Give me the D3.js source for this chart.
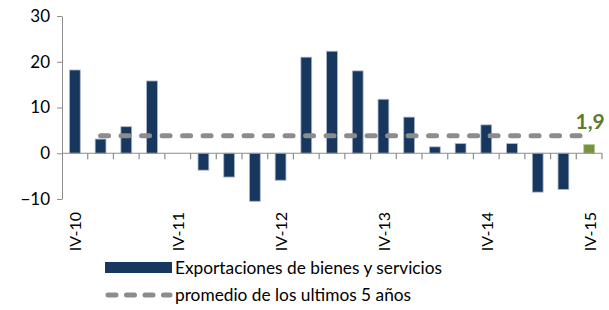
<!DOCTYPE html>
<html>
<head>
<meta charset="utf-8">
<script src="https://cdn.jsdelivr.net/npm/d3@7"></script>
<style>
  body { margin: 0; background: #fff; }
  text { font-family: Lato, "Open Sans", sans-serif; fill: #000; }
</style>
</head>
<body>
<div id="chart"></div>
<script>
"use strict";

// quarters IV-10 .. IV-15
const quarters = ["IV-10", "I-11", "II-11", "III-11", "IV-11", "I-12", "II-12", "III-12", "IV-12",
    "I-13", "II-13", "III-13", "IV-13", "I-14", "II-14", "III-14", "IV-14", "I-15", "II-15", "III-15", "IV-15"];
const exportaciones = [18.2, 3.1, 5.8, 15.8, 0, -3.7, -5.2, -10.5, -5.9,
    21.0, 22.3, 18.0, 11.8, 7.9, 1.4, 2.1, 6.2, 2.1, -8.5, -7.9, 1.9];
const promedio = [null, 3.8, 3.8, 3.8, 3.8, 3.8, 3.8, 3.8, 3.8, 3.8, 3.8,
    3.8, 3.8, 3.8, 3.8, 3.8, 3.8, 3.8, 3.8, 3.8, 3.8];
const yTicks = [-10, 0, 10, 20, 30];
const shownLabels = ["IV-10", "IV-11", "IV-12", "IV-13", "IV-14", "IV-15"];
const legendNames = ["Exportaciones de bienes y servicios", "promedio de los ultimos 5 años"];

const cont = {
    width: 609,
    height: 310,
    left: 62,
    right: 602,
    top: 16,
    bottom: 199,
}

const svg = d3.select("#chart")
    .append("svg")
    .attr("width", cont.width)
    .attr("height", cont.height);

const x = d3.scaleBand()
    .domain(quarters)
    .range([cont.left, cont.right])
    .paddingInner(0.58)
    .paddingOuter(0.29);

const y = d3.scaleLinear()
    .domain([-10, 30])
    .range([cont.bottom, cont.top]);

const step = x.step();
const bandStart = (q) => x(q) - step * 0.29;
const bandCenter = (q) => x(q) + x.bandwidth() / 2;

// y axis
const yAxis = svg.append("g")
    .attr("transform", "translate(" + cont.left + ",0)")
    .call(d3.axisLeft(y).tickValues(yTicks).tickSize(5).tickSizeOuter(0).tickPadding(7));
yAxis.select(".domain").attr("stroke", "#8c8c8c");
yAxis.selectAll(".tick line").attr("stroke", "#8c8c8c");
yAxis.selectAll(".tick text")
    .style("font-size", "17px")
    .attr("fill", "#000");

// bars
svg.selectAll(".bar")
    .data(quarters)
    .enter()
    .append("rect")
    .attr("class", "bar")
    .attr("x", (q) => x(q))
    .attr("width", x.bandwidth())
    .attr("y", (q, i) => y(Math.max(0, exportaciones[i])))
    .attr("height", (q, i) => Math.abs(y(exportaciones[i]) - y(0)))
    .attr("fill", (q, i) => i == quarters.length - 1 ? "#77933c" : "#17375e")
    .attr("stroke", (q, i) => i == quarters.length - 1 ? "#b7c99a" : "#aab6c8")
    .attr("stroke-width", 0.8);

// zero axis with category ticks
svg.append("line")
    .attr("x1", cont.left)
    .attr("x2", cont.right)
    .attr("y1", y(0))
    .attr("y2", y(0))
    .attr("stroke", "#8c8c8c")
    .attr("stroke-width", 1.2);

const boundaries = quarters.map((q) => bandStart(q) + step);
svg.selectAll(".xtick")
    .data(boundaries)
    .enter()
    .append("line")
    .attr("x1", (d) => d)
    .attr("x2", (d) => d)
    .attr("y1", y(0))
    .attr("y2", y(0) + 6)
    .attr("stroke", "#8c8c8c")
    .attr("stroke-width", 1.2);

// average line
const avgLine = d3.line()
    .defined((d) => d != null)
    .x((d, i) => bandCenter(quarters[i]))
    .y((d) => y(d));

svg.append("path")
    .datum(promedio)
    .attr("d", avgLine)
    .attr("fill", "none")
    .attr("stroke", "#8c8c8c")
    .attr("stroke-width", 5)
    .attr("stroke-linecap", "round")
    .attr("stroke-dasharray", "8,12.5");

// x labels
svg.selectAll(".xlabel")
    .data(shownLabels)
    .enter()
    .append("text")
    .attr("transform", (q) => "translate(" + (bandCenter(q) + 1) + "," + 212 + ") rotate(-90)")
    .attr("text-anchor", "end")
    .attr("dy", "0.35em")
    .style("font-size", "16px")
    .text((q) => q);

// last value label
const last = quarters.length - 1;
svg.append("text")
    .attr("x", bandCenter(quarters[last]) + 1)
    .attr("y", 129)
    .attr("text-anchor", "middle")
    .style("font-size", "21px")
    .style("font-weight", "bold")
    .style("fill", "#5f7a2e")
    .text(exportaciones[last].toString().replace(".", ","));

// legend
const legend = svg.append("g");
legend.append("rect")
    .attr("x", 105)
    .attr("y", 262)
    .attr("width", 67)
    .attr("height", 11)
    .attr("fill", "#17375e");
legend.append("line")
    .attr("x1", 108)
    .attr("x2", 170)
    .attr("y1", 295)
    .attr("y2", 295)
    .attr("stroke", "#8c8c8c")
    .attr("stroke-width", 5)
    .attr("stroke-linecap", "round")
    .attr("stroke-dasharray", "8,10.5");
legend.selectAll(".legtext")
    .data(legendNames)
    .enter()
    .append("text")
    .attr("x", 175)
    .attr("y", (d, i) => 274 + i * 27)
    .style("font-size", "17.3px")
    .text((d) => d);
</script>
</body>
</html>
